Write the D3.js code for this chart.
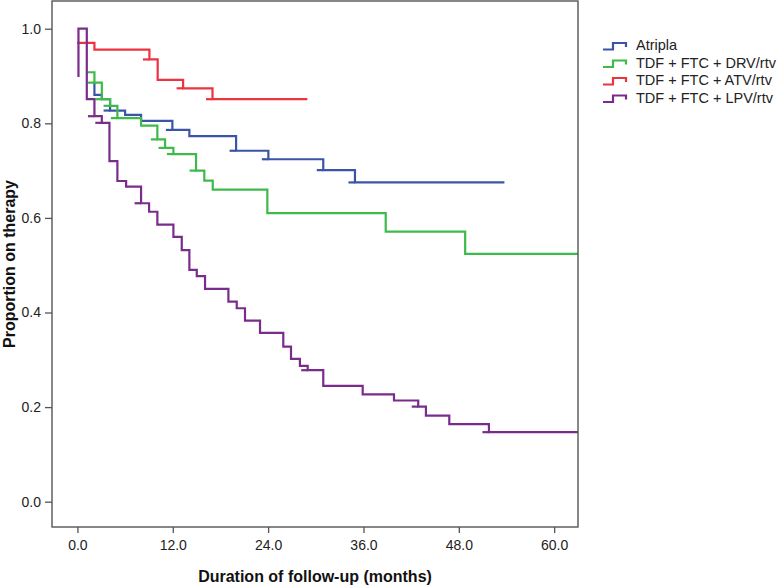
<!DOCTYPE html>
<html>
<head>
<meta charset="utf-8">
<script src="https://cdn.jsdelivr.net/npm/d3@7"></script>
<style>
  body { margin: 0; background: #fff; }
  svg text { font-family: "Liberation Sans", Arial, sans-serif; }
</style>
</head>
<body>
<svg id="chart" width="777" height="585"></svg>
<script>
// ---- data (months, proportion on therapy) ----
const seriesNames = ["Atripla", "TDF + FTC + DRV/rtv", "TDF + FTC + ATV/rtv", "TDF + FTC + LPV/rtv"];
const seriesColors = ["#3b55a6", "#3dba4a", "#ec3340", "#7a2c8c"];

const atripla = [[2.14,0.885],[2.14,0.860],[3.07,0.851],[4.11,0.827],[6.0,0.818],[8.01,0.805],[11.95,0.786],[14.09,0.773],[19.97,0.742],[24.03,0.724],[30.94,0.701],[34.93,0.675],[53.6,0.675]];
const drv = [[1.3,0.908],[2.14,0.886],[3.07,0.851],[4.11,0.837],[5.03,0.811],[8.01,0.795],[10.06,0.766],[11.03,0.748],[12.08,0.735],[14.93,0.700],[15.97,0.679],[17.03,0.660],[23.9,0.610],[38.8,0.571],[48.8,0.524],[64,0.524]];
const atv = [[0.13,0.970],[2.14,0.956],[9.06,0.935],[10.1,0.892],[13.3,0.874],[17.0,0.851],[28.8,0.851]];
const lpv = [[0.13,0.90],[0.13,1.0],[1.18,0.851],[2.14,0.815],[3.07,0.801],[4.03,0.720],[5.03,0.678],[6.13,0.666],[8.01,0.631],[9.02,0.613],[10.06,0.586],[12.08,0.560],[13.13,0.532],[14.09,0.490],[15.02,0.477],[16.06,0.450],[19.0,0.423],[20.05,0.409],[21.09,0.383],[22.98,0.357],[25.91,0.328],[26.88,0.302],[28.0,0.287],[28.98,0.278],[30.94,0.245],[35.9,0.227],[39.84,0.214],[42.89,0.201],[43.86,0.182],[46.8,0.164],[51.79,0.147],[64,0.147]];

// censor marks
const atriplaCens = [[4.11,0.827],[11.95,0.786],[19.97,0.742],[24.03,0.724],[30.94,0.701],[34.93,0.675]];
const drvCens = [[2.14,0.886],[3.07,0.851],[4.11,0.837],[5.03,0.811],[10.06,0.766],[11.03,0.748],[12.08,0.735],[14.93,0.700]];
const atvCens = [[9.06,0.935],[13.3,0.874],[17.0,0.851]];
const lpvCens = [[2.14,0.815],[3.07,0.801],[8.01,0.631],[28.98,0.278],[42.89,0.201],[51.79,0.147]];

const xTicks = [0, 12, 24, 36, 48, 60];
const yTicks = [0, 0.2, 0.4, 0.6, 0.8, 1.0];
const xTitle = "Duration of follow-up (months)";
const yTitle = "Proportion on therapy";

// ---- layout ----
const L = 52, R = 578, T = 1, B = 527;
const svg = d3.select("#chart");
const x = d3.scaleLinear().domain([-3.2, 63.0]).range([L, R]);
const y = d3.scaleLinear().domain([-0.0535, 1.0586]).range([B, T]);

svg.append("defs").append("clipPath").attr("id", "clip")
  .append("rect").attr("x", L).attr("y", T).attr("width", R - L).attr("height", B - T);

const allSeries = [atripla, drv, atv, lpv];
const allCens = [atriplaCens, drvCens, atvCens, lpvCens];
const line = d3.line().x(d => x(d[0])).y(d => y(d[1])).curve(d3.curveStepAfter);

const g = svg.append("g").attr("clip-path", "url(#clip)");
allSeries.forEach((s, i) => {
  g.append("path").datum(s).attr("d", line)
    .attr("fill", "none").attr("stroke", seriesColors[i]).attr("stroke-width", 2.2)
    .attr("stroke-linejoin", "miter").attr("stroke-linecap", "square");
  g.selectAll(null).data(allCens[i]).enter().append("line")
    .attr("x1", d => x(d[0]) - 6.5).attr("x2", d => x(d[0]))
    .attr("y1", d => y(d[1])).attr("y2", d => y(d[1]))
    .attr("stroke", seriesColors[i]).attr("stroke-width", 2.2);
});

// frame
svg.append("rect").attr("x", L).attr("y", T).attr("width", R - L).attr("height", B - T)
  .attr("fill", "none").attr("stroke", "#555").attr("stroke-width", 1.4);

// axes
const yAxis = svg.append("g").attr("transform", `translate(${L},0)`)
  .call(d3.axisLeft(y).tickValues(yTicks).tickFormat(d3.format(".1f")).tickSize(7).tickPadding(4));
const xAxis = svg.append("g").attr("transform", `translate(0,${B})`)
  .call(d3.axisBottom(x).tickValues(xTicks).tickFormat(d3.format(".1f")).tickSize(6).tickPadding(7));
[yAxis, xAxis].forEach(a => {
  a.select(".domain").remove();
  a.selectAll(".tick line").attr("stroke", "#555").attr("stroke-width", 1.3);
  a.selectAll(".tick text").attr("fill", "#222").style("font-size", "14px");
});

// titles
svg.append("text").attr("x", (L + R) / 2).attr("y", 582).attr("text-anchor", "middle")
  .style("font-size", "16px").style("font-weight", "bold").attr("fill", "#111").text(xTitle);
svg.append("text").attr("transform", `translate(14.5,${(T + B) / 2}) rotate(-90)`)
  .attr("text-anchor", "middle").style("font-size", "16px").style("font-weight", "bold")
  .attr("fill", "#111").text(yTitle);

// legend
const lg = svg.append("g");
seriesNames.forEach((n, i) => {
  const by = 50 + i * 17.5;
  lg.append("path").attr("d", `M603,${by - 0.5} H613 V${by - 7} H626 V${by - 3}`)
    .attr("fill", "none").attr("stroke", seriesColors[i]).attr("stroke-width", 2.2);
  lg.append("text").attr("x", 636).attr("y", by).style("font-size", "14.5px")
    .attr("fill", "#222").text(n);
});
</script>
</body>
</html>
